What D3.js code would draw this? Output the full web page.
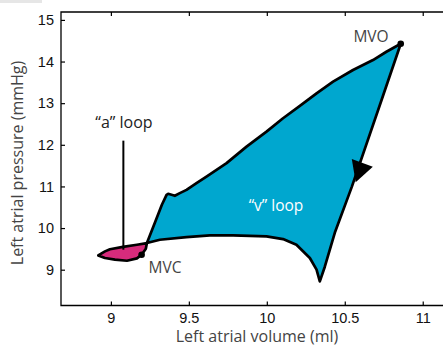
<!DOCTYPE html>
<html><head><meta charset="utf-8">
<script src="https://cdn.jsdelivr.net/npm/d3@7"></script>
<style>body{margin:0;background:#fff;}svg{display:block;}</style>
</head><body>
<svg id="c" width="443" height="348"></svg>
<script>
// Data
const xTicks = [9, 9.5, 10, 10.5, 11];
const yTicks = [9, 10, 11, 12, 13, 14, 15];
// "v" loop outline: [volume (ml), pressure (mmHg)]
const vLoopVol = [9.231, 9.282, 9.327, 9.357, 9.367, 9.389, 9.410, 9.442, 9.485, 9.549, 9.613, 9.742, 9.870, 9.998, 10.104, 10.212, 10.319, 10.425, 10.553, 10.681, 10.767, 10.859,
  10.736, 10.545, 10.436, 10.372, 10.340,
  10.319, 10.276, 10.190, 10.104, 9.998, 9.784, 9.635, 9.485, 9.314];
const vLoopPres = [9.640, 10.127, 10.559, 10.799, 10.823, 10.799, 10.775, 10.839, 10.918, 11.079, 11.237, 11.559, 11.957, 12.317, 12.638, 12.933, 13.237, 13.516, 13.796, 14.036, 14.235, 14.427,
  13.077, 10.990, 9.887, 9.072, 8.719,
  9.000, 9.281, 9.600, 9.736, 9.799, 9.823, 9.823, 9.784, 9.719];
// "a" loop outline
const aLoopVol = [8.919, 8.962, 8.994, 9.077, 9.167, 9.231, 9.224, 9.197, 9.167, 9.103, 9.026, 8.962];
const aLoopPres = [9.343, 9.440, 9.492, 9.548, 9.600, 9.640, 9.504, 9.360, 9.271, 9.215, 9.240, 9.280];
// Direction arrow (triangle) vertices
const arrowVol = [10.545, 10.68, 10.57];
const arrowPres = [11.66, 11.47, 11.10];
// Labelled points
const pointNames = ["MVO", "MVC"];
const pointVol = [10.859, 9.197];
const pointPres = [14.427, 9.36];
const aLineVol = 9.08;
const aLinePres = [9.48, 12.1];

const svg = d3.select("#c");
const x = d3.scaleLinear().domain([8.68, 11.13]).range([61, 443]);
const y = d3.scaleLinear().domain([8.14, 15.19]).range([305.5, 12]);

// faint shadow top-left
svg.append("rect").attr("x",0).attr("y",0).attr("width",42).attr("height",3).attr("fill","#e6e6e6");

const line = d3.line().x(d=>x(d[0])).y(d=>y(d[1])).curve(d3.curveLinear);
const vPts = vLoopVol.map((v,i)=>[v, vLoopPres[i]]);
const aPts = aLoopVol.map((v,i)=>[v, aLoopPres[i]]);

svg.append("path").attr("d", line(vPts)+"Z").attr("fill","#00a7cf").attr("stroke","#000").attr("stroke-width",2.7).attr("stroke-linejoin","round");
svg.append("path").attr("d", line(aPts)+"Z").attr("fill","#d72b7c").attr("stroke","#000").attr("stroke-width",2.7).attr("stroke-linejoin","round");

// arrow
svg.append("path").attr("d", line(arrowVol.map((v,i)=>[v, arrowPres[i]]))+"Z").attr("fill","#000");

// points
svg.selectAll("circle.pt").data(pointVol).enter().append("circle")
  .attr("cx", d=>x(d)).attr("cy",(d,i)=>y(pointPres[i])).attr("r",3.3).attr("fill","#000");

// "a" loop pointer line
svg.append("line").attr("x1",x(aLineVol)).attr("x2",x(aLineVol)).attr("y1",y(aLinePres[0])).attr("y2",y(aLinePres[1]))
  .attr("stroke","#000").attr("stroke-width",2);

// axes frame
const g = svg.append("g");
g.append("path").attr("d",`M${x.range()[1]},${y.range()[1]}H61V305.5H${x.range()[1]}`).attr("fill","none").attr("stroke","#000").attr("stroke-width",1.3);

const xb = g.append("g").attr("transform","translate(0,305.5)").call(d3.axisBottom(x).tickValues(xTicks).tickSize(-4).tickPadding(7).tickFormat(d3.format("")));
xb.select(".domain").remove();
const xt = g.append("g").attr("transform","translate(0,12)").call(d3.axisTop(x).tickValues(xTicks).tickSize(-4).tickFormat(""));
xt.select(".domain").remove();
const yl = g.append("g").attr("transform","translate(61,0)").call(d3.axisLeft(y).tickValues(yTicks).tickSize(-4).tickPadding(7).tickFormat(d3.format("")));
yl.select(".domain").remove();
g.selectAll(".tick text").attr("font-family","'Liberation Sans', Arial, sans-serif").attr("font-size",14.5).attr("fill","#111");
g.selectAll(".tick line").attr("stroke","#000").attr("stroke-width",1.2);

// axis titles
const titleFont = "'Open Sans', 'Noto Sans', sans-serif";
svg.append("text").attr("x",257).attr("y",342).attr("text-anchor","middle").attr("font-family",titleFont).attr("font-size",16).attr("fill","#444").text("Left atrial volume (ml)");
svg.append("text").attr("transform","translate(23,163) rotate(-90)").attr("text-anchor","middle").attr("font-family",titleFont).attr("font-size",16).attr("fill","#444").text("Left atrial pressure (mmHg)");

// annotations
svg.append("text").attr("x",371).attr("y",42).attr("text-anchor","middle").attr("font-family",titleFont).attr("font-size",15.5).attr("fill","#444").text(pointNames[0]);
svg.append("text").attr("x",165).attr("y",273).attr("text-anchor","middle").attr("font-family",titleFont).attr("font-size",15.5).attr("fill","#444").text(pointNames[1]);
svg.append("text").attr("x",124).attr("y",128).attr("text-anchor","middle").attr("font-family",titleFont).attr("font-size",16).attr("fill","#222").text("\u201ca\u201d loop");
svg.append("text").attr("x",276).attr("y",211).attr("text-anchor","middle").attr("font-family",titleFont).attr("font-size",15.5).attr("fill","#fff").text("\u201cv\u201d loop");
</script>
</body></html>
